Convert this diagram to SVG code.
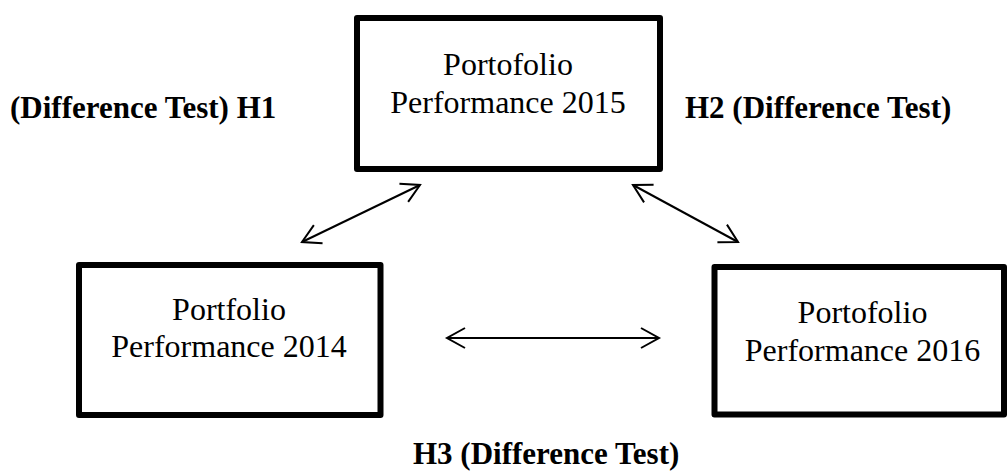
<svg xmlns="http://www.w3.org/2000/svg" width="1007" height="471" viewBox="0 0 1007 471">
<style>
.box{fill:#fff;stroke:#000;stroke-width:6;stroke-linejoin:round}
.t{font-family:"Liberation Serif","Times New Roman",serif;font-size:32px;fill:#000;text-anchor:middle}
.lbl{font-family:"Liberation Serif","Times New Roman",serif;font-size:31px;font-weight:bold;fill:#000}
.conn{stroke:#000;stroke-width:2;fill:none}
</style>
<defs>
<marker id="ah" markerUnits="userSpaceOnUse" viewBox="-22 -14 26 28" refX="0" refY="0" markerWidth="26" markerHeight="28" orient="auto-start-reverse">
<path d="M-18,-10 L0,0 L-18,10" fill="none" stroke="#000" stroke-width="2"/>
</marker>
</defs>
<rect width="1007" height="471" fill="#fff"/>
<g id="node-2015">
<rect class="box" x="357" y="18" width="303" height="151"/>
<text class="t" x="508" y="75">Portofolio</text>
<text class="t" x="508" y="113">Performance 2015</text>
</g>
<g id="node-2014">
<rect class="box" x="79" y="265" width="301.5" height="150"/>
<text class="t" x="229" y="320">Portfolio</text>
<text class="t" x="229" y="357">Performance 2014</text>
</g>
<g id="node-2016">
<rect class="box" x="714.5" y="267" width="289.5" height="147.5"/>
<text class="t" x="862.5" y="323">Portofolio</text>
<text class="t" x="862.5" y="361">Performance 2016</text>
</g>
<g id="connectors">
<line class="conn" x1="302" y1="242" x2="420" y2="185" marker-start="url(#ah)" marker-end="url(#ah)"/>
<line class="conn" x1="633" y1="185" x2="738" y2="242" marker-start="url(#ah)" marker-end="url(#ah)"/>
<line class="conn" x1="447" y1="338" x2="659" y2="338" marker-start="url(#ah)" marker-end="url(#ah)"/>
</g>
<g id="labels">
<text class="lbl" x="10" y="118">(Difference Test) H1</text>
<text class="lbl" x="685" y="118">H2 (Difference Test)</text>
<text class="lbl" x="413" y="464">H3 (Difference Test)</text>
</g>
</svg>
